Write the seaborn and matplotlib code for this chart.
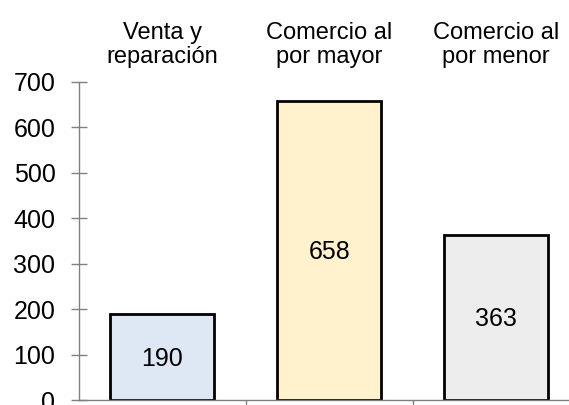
import matplotlib
matplotlib.use("Agg")
import matplotlib.pyplot as plt
import seaborn as sns

categories = ["Venta y\nreparación", "Comercio al\npor mayor", "Comercio al\npor menor"]
values = [190, 658, 363]
bar_colors = ["#DEE8F4", "#FFF2CC", "#EDEDED"]
yticks = [0, 100, 200, 300, 400, 500, 600, 700]

sns.set_style("white")
plt.rcParams["font.family"] = ["Liberation Sans", "DejaVu Sans"]
plt.rcParams["text.color"] = "black"

fig = plt.figure(figsize=(5.69, 4.05), dpi=100)
ax = fig.add_axes([78.7 / 569, 5 / 405, 501 / 569, 318 / 405])

sns.barplot(
    x=categories,
    y=values,
    hue=categories,
    palette=bar_colors,
    legend=False,
    saturation=1,
    width=0.625,
    edgecolor="black",
    linewidth=2,
    ax=ax,
)

for i, v in enumerate(values):
    ax.text(i, v / 2 - 4, str(v), ha="center", va="center", fontsize=18, color="black")

ax.set_xlim(-0.5, 2.5)
ax.set_ylim(0, 700)
ax.set_yticks(yticks)
ax.set_yticklabels([str(t) for t in yticks], fontsize=18)
ax.tick_params(axis="y", direction="inout", length=11.5, width=1, color="#808080",
               labelcolor="black", pad=11, left=True)

ax.set_xticks(range(len(categories)))
ax.set_xticklabels(categories, fontsize=17, linespacing=1.15)
ax.tick_params(axis="x", which="major", top=True, bottom=False, labeltop=True,
               labelbottom=False, length=0, pad=10, labelcolor="black")
ax.set_xticks([0.5, 1.5, 2.5], minor=True)
ax.tick_params(axis="x", which="minor", bottom=True, direction="out", length=8,
               width=1, color="#808080")

ax.set_xlabel("")
ax.set_ylabel("")
for side in ["top", "right"]:
    ax.spines[side].set_visible(False)
for side in ["left", "bottom"]:
    ax.spines[side].set_color("#808080")
    ax.spines[side].set_linewidth(1)

fig.savefig("out.png", dpi=100)
